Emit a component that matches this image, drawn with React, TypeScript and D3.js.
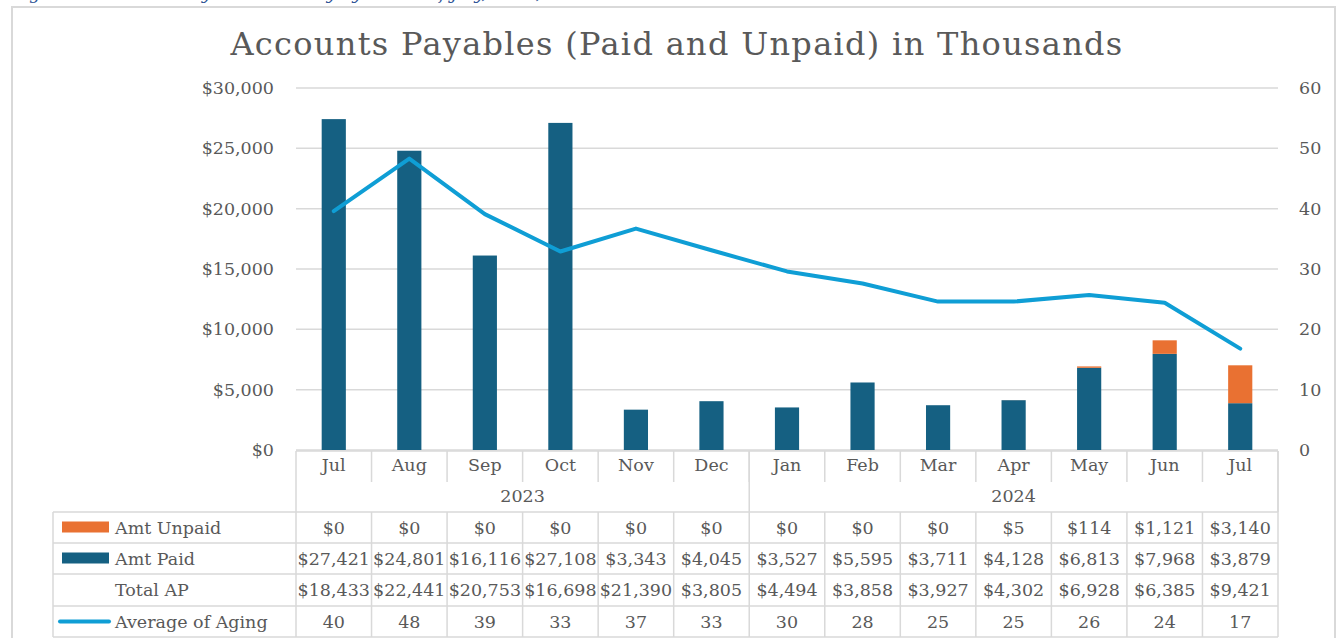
import React from "react";
import * as d3 from "d3";

const months = ["Jul", "Aug", "Sep", "Oct", "Nov", "Dec", "Jan", "Feb", "Mar", "Apr", "May", "Jun", "Jul"];
const yearLabels = ["2023", "2024"];
const yearSpans = [6, 7];
const amtUnpaid = [0, 0, 0, 0, 0, 0, 0, 0, 0, 5, 114, 1121, 3140];
const amtPaid = [27421, 24801, 16116, 27108, 3343, 4045, 3527, 5595, 3711, 4128, 6813, 7968, 3879];
const totalAP = [18433, 22441, 20753, 16698, 21390, 3805, 4494, 3858, 3927, 4302, 6928, 6385, 9421];
const agingAvg = [39.6, 48.3, 39.1, 32.9, 36.7, 33.1, 29.6, 27.6, 24.6, 24.6, 25.7, 24.4, 16.8];
const leftTicks = [0, 5000, 10000, 15000, 20000, 25000, 30000];
const rightTicks = [0, 10, 20, 30, 40, 50, 60];

const TITLE = "Accounts Payables (Paid and Unpaid) in Thousands";
const FONT = "'DejaVu Serif', serif";
const TXT = "#595959";
const GRID = "#D9D9D9";
const C_PAID = "#156082";
const C_UNPAID = "#E97132";
const C_LINE = "#0F9ED5";

export default function App() {
  const W = 1340, H = 638;
  const plotL = 296, plotR = 1278, plotT = 88, plotB = 450;
  const idx = months.map((_, i) => i);
  const x = d3.scaleBand<number>().domain(idx).range([plotL, plotR]).paddingInner(0.68).paddingOuter(0.34);
  const step = x.step();
  const cx = (i: number) => (x(i) as number) + x.bandwidth() / 2;
  const yL = d3.scaleLinear().domain([0, 30000]).range([plotB, plotT]);
  const yR = d3.scaleLinear().domain([0, 60]).range([plotB, plotT]);
  const money = d3.format("$,.0f");
  const int0 = d3.format(".0f");
  const FS = 17.5;

  const line = d3.line<number>().x((_, i) => cx(i)).y((d) => yR(d));

  // table geometry
  const tabL = 53;
  const monthTop = 451, monthBot = 482, yearBot = 512;
  const rowEdges = [512, 543, 574, 606, 637];
  const rows = [
    { name: "Amt Unpaid", vals: amtUnpaid.map(money), key: "unpaid" },
    { name: "Amt Paid", vals: amtPaid.map(money), key: "paid" },
    { name: "Total AP", vals: totalAP.map(money), key: "none" },
    { name: "Average of Aging", vals: agingAvg.map(int0), key: "line" },
  ];
  const boundaries = d3.range(months.length + 1).map((i) => plotL + i * step);
  let acc = 0;
  const yearGroups = yearLabels.map((lab, gi) => {
    const s = acc;
    acc += yearSpans[gi];
    return { lab, start: plotL + s * step, end: plotL + acc * step };
  });

  return (
    <svg width={W} height={H} style={{ position: "absolute", left: 0, top: 0, display: "block", background: "#fff" }} fontFamily={FONT}>
      <rect x={0} y={0} width={W} height={H} fill="#fff" />
      <text x={12} y={-1} fontSize={17} fontStyle="italic" fill="#2F5496">Figure 5: Accounts Payable Summary by Month of July, 2024,</text>
      {/* frame */}
      <rect x={12} y={7} width={1323} height={H} fill="none" stroke={GRID} strokeWidth={2} />
      {/* title */}
      <text x={677} y={55} textAnchor="middle" fontSize={32} letterSpacing={1.3} fill={TXT}>{TITLE}</text>
      {/* gridlines */}
      {leftTicks.map((t) => (
        <line key={"g" + t} x1={plotL} x2={plotR} y1={yL(t)} y2={yL(t)} stroke={GRID} strokeWidth={1.5} />
      ))}
      {/* left axis labels */}
      {leftTicks.map((t) => (
        <text key={"l" + t} x={274} y={yL(t)} dy="0.35em" textAnchor="end" fontSize={FS} fill={TXT}>{money(t)}</text>
      ))}
      {rightTicks.map((t) => (
        <text key={"r" + t} x={1299} y={yR(t)} dy="0.35em" textAnchor="start" fontSize={FS} fill={TXT}>{t}</text>
      ))}
      {/* bars */}
      {idx.map((i) => (
        <g key={"b" + i}>
          <rect x={x(i)} y={yL(amtPaid[i])} width={x.bandwidth()} height={yL(0) - yL(amtPaid[i])} fill={C_PAID} />
          {amtUnpaid[i] > 0 && (
            <rect x={x(i)} y={yL(amtPaid[i] + amtUnpaid[i])} width={x.bandwidth()} height={yL(amtPaid[i]) - yL(amtPaid[i] + amtUnpaid[i])} fill={C_UNPAID} />
          )}
        </g>
      ))}
      {/* line */}
      <path d={line(agingAvg) || ""} fill="none" stroke={C_LINE} strokeWidth={4} strokeLinejoin="round" strokeLinecap="round" />
      {/* table lines */}
      <g stroke={GRID} strokeWidth={1.5}>
        <line x1={plotL} x2={plotR} y1={monthTop} y2={monthTop} />
        {boundaries.map((b, i) => (
          <line key={"mb" + i} x1={b} x2={b} y1={monthTop} y2={i === 0 || i === months.length ? yearBot : monthBot} />
        ))}
        {yearGroups.map((g, i) => (
          <line key={"yb" + i} x1={g.end} x2={g.end} y1={monthTop} y2={yearBot} />
        ))}
        {rowEdges.map((ry, i) => (
          <line key={"rh" + i} x1={tabL} x2={plotR} y1={ry} y2={ry} />
        ))}
        {[tabL, ...boundaries].map((b, i) => (
          <line key={"rv" + i} x1={b} x2={b} y1={rowEdges[0]} y2={rowEdges[rowEdges.length - 1]} />
        ))}
      </g>
      {/* month labels */}
      {months.map((m, i) => (
        <text key={"m" + i} x={cx(i)} y={471} textAnchor="middle" fontSize={FS} fill={TXT}>{m}</text>
      ))}
      {yearGroups.map((g) => (
        <text key={"y" + g.lab} x={(g.start + g.end) / 2} y={502} textAnchor="middle" fontSize={FS} fill={TXT}>{g.lab}</text>
      ))}
      {/* data rows */}
      {rows.map((r, ri) => {
        const top = rowEdges[ri], bot = rowEdges[ri + 1];
        const mid = (top + bot) / 2;
        return (
          <g key={"row" + ri}>
            {r.key === "unpaid" && <rect x={62} y={mid - 6} width={47} height={11} fill={C_UNPAID} />}
            {r.key === "paid" && <rect x={62} y={mid - 6} width={47} height={11} fill={C_PAID} />}
            {r.key === "line" && <line x1={60} x2={109} y1={mid} y2={mid} stroke={C_LINE} strokeWidth={4} strokeLinecap="round" />}
            <text x={115} y={mid} dy="0.35em" fontSize={FS} fill={TXT}>{r.name}</text>
            {r.vals.map((v, i) => (
              <text key={i} x={cx(i)} y={mid} dy="0.35em" textAnchor="middle" fontSize={FS} fill={TXT}>{v}</text>
            ))}
          </g>
        );
      })}
    </svg>
  );
}
